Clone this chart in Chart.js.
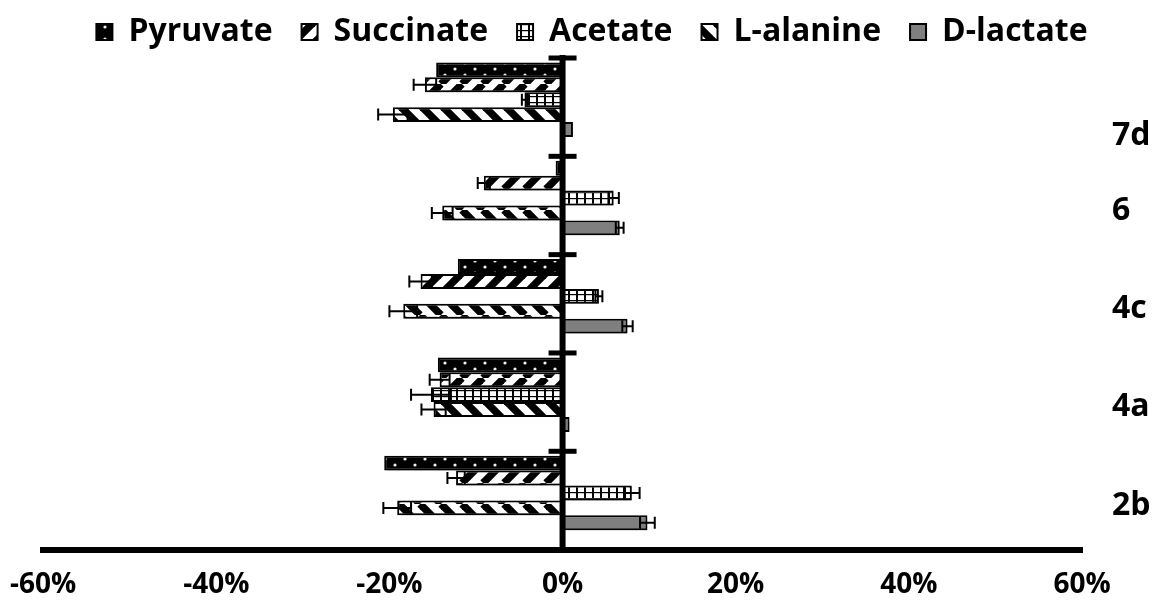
<!DOCTYPE html>
<html>
<head>
<meta charset="utf-8">
<title>Metabolite change</title>
<script src="https://cdn.jsdelivr.net/npm/chart.js@4"></script>
<style>
  body { margin: 0; background: #fff; }
  #wrap { width: 1170px; height: 602px; }
</style>
</head>
<body>
<div id="wrap"><canvas id="my-chart"></canvas></div>
<script>
'use strict';

// ******* DATA *********
let categories = ['7d', '6', '4c', '4a', '2b'];
let seriesNames = ['Pyruvate', 'Succinate', 'Acetate', 'L-alanine', 'D-lactate'];

let pyruvate = [-14.6, -0.8, -12.1, -14.4, -20.6];
let pyruvateErr = [0, 0, 0, 0, 0];
let succinate = [-15.9, -9.1, -16.4, -14.2, -12.3];
let succinateErr = [1.3, 0.7, 1.3, 1.15, 1.0];
let acetate = [-4.4, 5.9, 4.2, -15.2, 8.0];
let acetateErr = [0.3, 0.6, 0.4, 2.3, 0.9];
let lalanine = [-19.6, -13.9, -18.4, -14.9, -19.1];
let lalanineErr = [1.7, 1.2, 1.6, 1.4, 1.6];
let dlactate = [1.2, 6.6, 7.5, 0.8, 9.8];
let dlactateErr = [0, 0.45, 0.6, 0, 0.85];

let xTicks = [-60, -40, -20, 0, 20, 40, 60];

// ******* PATTERNS *********
function makeTile(w, h, draw) {
  let c = document.createElement('canvas');
  c.width = w;
  c.height = h;
  let g = c.getContext('2d');
  draw(g, w, h);
  return document.createElement('canvas').getContext('2d').createPattern(c, 'repeat');
}

let dotPattern = makeTile(20, 12, function (g, w, h) {
  g.fillStyle = '#000';
  g.fillRect(0, 0, w, h);
  g.fillStyle = '#f0f0f0';
  g.beginPath();
  g.arc(5, 3, 1.6, 0, Math.PI * 2);
  g.arc(15, 9, 1.6, 0, Math.PI * 2);
  g.fill();
});

function stripeTile(forward) {
  return makeTile(21, 21, function (g, w, h) {
    g.fillStyle = '#fff';
    g.fillRect(0, 0, w, h);
    g.strokeStyle = '#000';
    g.lineWidth = 7.5;
    for (let k = -1; k <= 1; k++) {
      g.beginPath();
      if (forward) {
        g.moveTo(k * w, h);
        g.lineTo(k * w + w, 0);
      } else {
        g.moveTo(k * w, 0);
        g.lineTo(k * w + w, h);
      }
      g.stroke();
    }
  });
}

let gridPattern = makeTile(8, 6, function (g, w, h) {
  g.fillStyle = '#fff';
  g.fillRect(0, 0, w, h);
  g.fillStyle = '#000';
  g.fillRect(0, 0, 2, h);
  g.fillRect(0, 0, w, 1.2);
});

let fills = [dotPattern, stripeTile(true), gridPattern, stripeTile(false), '#7f7f7f'];
let values = [pyruvate, succinate, acetate, lalanine, dlactate];
let errors = [pyruvateErr, succinateErr, acetateErr, lalanineErr, dlactateErr];

// ******* PLUGINS *********
let shadowPlugin = {
  id: 'barShadow',
  beforeDatasetsDraw(chart) {
    let ctx = chart.ctx;
    ctx.save();
    ctx.shadowColor = 'rgba(0,0,0,0.35)';
    ctx.shadowBlur = 4;
    ctx.shadowOffsetX = 2;
    ctx.shadowOffsetY = 3;
  },
  afterDatasetsDraw(chart) {
    chart.ctx.restore();
  }
};

let errorBarPlugin = {
  id: 'errorBars',
  afterDatasetsDraw(chart) {
    let ctx = chart.ctx;
    let xScale = chart.scales.x;
    let yScale = chart.scales.y;
    ctx.save();
    ctx.strokeStyle = '#000';
    ctx.lineWidth = 2;
    for (let d = 0; d < values.length; d++) {
      let meta = chart.getDatasetMeta(d);
      meta.data.forEach(function (bar, i) {
        let err = errors[d][i];
        if (!err) return;
        let v = values[d][i];
        let x1 = xScale.getPixelForValue(v - err);
        let x2 = xScale.getPixelForValue(v + err);
        let y = bar.y;
        let cap = 6;
        ctx.beginPath();
        ctx.moveTo(x1, y);
        ctx.lineTo(x2, y);
        ctx.moveTo(x1, y - cap);
        ctx.lineTo(x1, y + cap);
        ctx.moveTo(x2, y - cap);
        ctx.lineTo(x2, y + cap);
        ctx.stroke();
      });
    }

    // zero axis with cross tick marks between categories
    let x0 = xScale.getPixelForValue(0);
    ctx.lineWidth = 6;
    ctx.beginPath();
    ctx.moveTo(x0, chart.chartArea.top - 3);
    ctx.lineTo(x0, chart.chartArea.bottom);
    ctx.stroke();
    ctx.lineWidth = 5;
    for (let i = 0; i < categories.length; i++) {
      let yb = (yScale.getPixelForValue(i) + (i === 0 ? 2 * yScale.getPixelForValue(0) - yScale.getPixelForValue(1) : yScale.getPixelForValue(i - 1))) / 2;
      ctx.beginPath();
      ctx.moveTo(x0 - 14, yb);
      ctx.lineTo(x0 + 14, yb);
      ctx.stroke();
    }
    ctx.restore();
  }
};

// ******* CHART *********
Chart.defaults.font.family = "'Open Sans', sans-serif";
Chart.defaults.font.weight = 'bold';
Chart.defaults.color = '#000';

let datasets = seriesNames.map(function (name, d) {
  return {
    label: name,
    data: values[d],
    backgroundColor: fills[d],
    borderColor: '#000',
    borderWidth: 2,
    borderSkipped: false
  };
});
// empty slot so the bars sit high inside each band, like the original
datasets.push({ label: '', data: categories.map(function () { return null; }) });

let ctx = document.getElementById('my-chart');

new Chart(ctx, { //eslint-disable-line
  type: 'bar',
  data: { labels: categories, datasets: datasets },
  options: {
    indexAxis: 'y',
    responsive: true,
    maintainAspectRatio: false,
    animation: false,
    categoryPercentage: 0.91,
    barPercentage: 1,
    layout: { padding: { top: -13, left: 14, right: 0, bottom: -18 } },
    plugins: {
      legend: {
        position: 'top',
        labels: {
          font: { size: 32, weight: 'bold' },
          boxWidth: 16,
          boxHeight: 16,
          padding: 29,
          filter: function (item) { return item.datasetIndex < seriesNames.length; }
        }
      },
      tooltip: { enabled: false }
    },
    scales: {
      x: {
        min: -60,
        max: 60,
        afterBuildTicks: function (scale) {
          scale.ticks = xTicks.map(function (v) { return { value: v }; });
        },
        grid: { display: false, drawTicks: false },
        border: { display: true, color: '#000', width: 6 },
        ticks: {
          font: { size: 28, weight: 'bold', lineHeight: 1.8 },
          padding: 10,
          callback: function (v) { return v + '%'; }
        }
      },
      y: {
        position: 'right',
        grid: { display: false, drawTicks: false },
        border: { display: false },
        afterFit: function (scale) {
          scale.width = 88;
          scale.paddingTop = 0;
          scale.paddingBottom = 0;
        },
        ticks: {
          font: { size: 32, weight: 'bold', lineHeight: 1.5 },
          padding: 30,
          labelOffset: 5,
          autoSkip: false,
          // the top label sits lower in the original
          callback: function (v, i) { return i === 0 ? ['', categories[i]] : categories[i]; }
        }
      }
    }
  },
  plugins: [shadowPlugin, errorBarPlugin]
});
</script>
</body>
</html>
